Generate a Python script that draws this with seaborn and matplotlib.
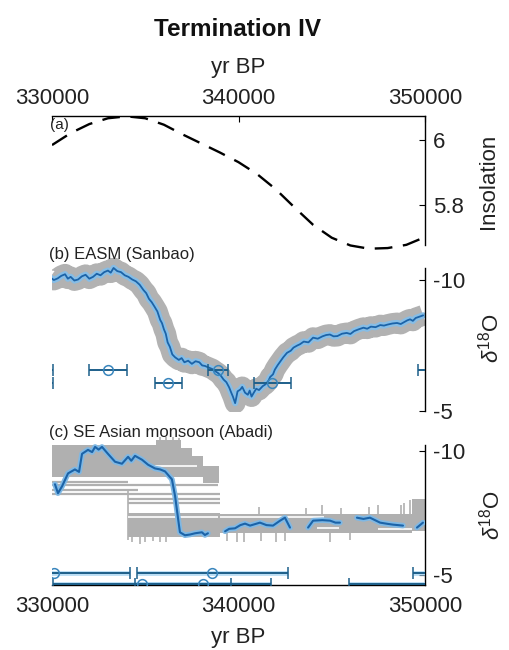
import numpy as np
import pandas as pd
import matplotlib
matplotlib.use("Agg")
import matplotlib.pyplot as plt
import seaborn as sns

# ---------------- data ----------------
x_ticks = [330000, 340000, 350000]
x_ticklabels = ["330000", "340000", "350000"]

# (a) insolation
ins_age = [330000, 331000, 332000, 333000, 334000, 335000, 336000, 337000, 338000, 339000,
           340000, 341000, 342000, 343000, 344000, 345000, 346000, 347000, 348000, 349000, 350000]
ins_val = [5.985, 6.022, 6.050, 6.068, 6.074, 6.068, 6.048, 6.018, 5.990, 5.962,
           5.932, 5.895, 5.848, 5.792, 5.738, 5.698, 5.674, 5.664, 5.666, 5.676, 5.700]
ins_ticks = [5.8, 6.0]
ins_ticklabels = ["5.8", "6"]

# (b) EASM (Sanbao)
b_age = [329900, 330100, 330300, 330500, 330700, 330850, 331000, 331200, 331400, 331600,
         331800, 332000, 332200, 332400, 332600, 332800, 333000, 333150, 333300, 333500,
         333700, 333900, 334100, 334300, 334500, 334700, 334900, 335050, 335200, 335350,
         335500, 335650, 335800, 335900, 336000, 336100, 336200, 336320, 336450, 336600,
         336800, 336950, 337100, 337300, 337500, 337700, 337900, 338050, 338200, 338400,
         338600, 338750, 338900, 339050, 339200, 339350, 339500, 339600, 339700, 339820,
         339950, 340100, 340200, 340350, 340500, 340600, 340700, 340820, 340950, 341100,
         341300, 341450, 341600, 341700, 341850, 341950, 342100, 342250, 342400, 342600,
         342800, 342950, 343150, 343300, 343500, 343750, 344000, 344250, 344500, 344700,
         344900, 345100, 345300, 345550, 345800, 346000, 346200, 346450, 346700, 346900,
         347100, 347350, 347600, 347800, 348000, 348250, 348500, 348700, 348900, 349050,
         349200, 349350, 349500, 349700, 349900]
b_d18o = [-10.10, -10.00, -10.06, -10.16, -10.22, -10.05, -10.12, -9.98, -10.02, -10.14,
          -10.20, -10.05, -10.12, -10.24, -10.18, -10.30, -10.36, -10.28, -10.46, -10.34,
          -10.30, -10.18, -10.12, -10.02, -9.95, -9.82, -9.62, -9.50, -9.28, -9.15,
          -8.98, -8.80, -8.48, -8.35, -8.12, -7.95, -7.62, -7.45, -7.16, -7.05,
          -6.95, -7.02, -6.86, -6.92, -6.80, -6.90, -6.86, -6.74, -6.72, -6.66,
          -6.60, -6.52, -6.45, -6.35, -6.20, -6.10, -5.90, -5.72, -5.55, -5.30,
          -5.75, -5.82, -5.92, -5.70, -5.62, -5.78, -5.55, -5.70, -5.85, -5.80,
          -5.95, -6.02, -6.15, -6.30, -6.40, -6.58, -6.75, -6.90, -7.05, -7.22,
          -7.30, -7.42, -7.50, -7.55, -7.65, -7.62, -7.80, -7.76, -7.85, -7.90,
          -7.92, -7.85, -7.86, -7.95, -7.98, -7.94, -8.05, -8.12, -8.18, -8.14,
          -8.22, -8.20, -8.28, -8.26, -8.30, -8.34, -8.36, -8.32, -8.40, -8.46,
          -8.50, -8.44, -8.55, -8.60, -8.65]
b_date_age = [328000, 333020, 338900, 352500, 328000, 336240, 341820]
b_date_err = [2050, 1020, 540, 2880, 2050, 720, 980]
b_date_y = [-6.56, -6.56, -6.56, -6.56, -6.06, -6.06, -6.06]

# (c) SE Asian monsoon (Abadi)
c_age = [330160, 330320, 330540, 330860, 331230, 331450, 331610, 331930, 332150, 332310,
         332500, 332680, 333000, 333380, 333750, 334080, 334250, 334450, 334830, 335150,
         335520, 335800, 336060, 336430, 336600, 336760, 336860, 337130, 337400, 337670,
         338040, 338200, 338360,
         339280, 339500, 339810, 340100, 340350, 340620, 341150, 341500, 341850, 342230,
         342490, 342760,
         343730, 344000, 344500, 344910, 345200, 345440,
         346350, 346700, 347050, 347590, 348000, 348280, 348820,
         349570, 349890]
c_d18o = [-8.65, -8.29, -8.57, -9.09, -9.25, -9.15, -9.88, -10.04, -9.95, -10.16,
          -10.05, -10.16, -9.88, -9.56, -9.48, -9.76, -9.60, -9.80, -9.64, -9.44,
          -9.29, -9.25, -9.17, -8.85, -8.17, -7.26, -6.71, -6.59, -6.62, -6.67,
          -6.71, -6.60, -6.67,
          -6.75, -6.85, -6.87, -7.00, -7.06, -6.98, -7.10, -7.00, -6.98, -7.18,
          -7.30, -6.90,
          -6.90, -7.18, -7.20, -7.18, -7.10, -7.10,
          -7.30, -7.25, -7.30, -7.10, -7.05, -7.02, -6.98,
          -6.90, -7.10]
c_seg = [0] * 33 + [1] * 12 + [2] * 6 + [3] * 7 + [4] * 2

# (c) age-ensemble grey blocks
c_up_x = [330000, 335600, 335600, 336900, 336900, 337500, 337500, 338100, 338100, 338950]
c_up_top = [-10.22, -10.22, -10.45, -10.45, -10.10, -10.10, -9.80, -9.80, -9.40, -9.40]
c_up_bot = [-8.95, -8.95, -8.95, -8.95, -8.95, -8.95, -8.95, -8.95, -8.70, -8.70]
c_lo_x = [334100, 339000, 339000, 349300, 349300, 350000]
c_lo_top = [-7.50, -7.50, -7.45, -7.45, -8.05, -8.05]
c_lo_bot = [-6.50, -6.50, -6.70, -6.70, -6.75, -6.75]
c_line_x0 = [330000, 330000, 330000, 330000, 334100, 334100]
c_line_x1 = [334100, 338900, 334600, 339000, 339000, 339000]
c_line_y = [-8.75, -8.62, -8.42, -8.25, -8.05, -7.90]
c_white_x0 = [334100, 339000, 344200, 347500, 335200]
c_white_x1 = [338900, 344600, 345400, 349300, 337800]
c_white_y = [-7.32, -7.32, -6.90, -6.85, -9.40]
c_spike_x = [334300, 334700, 335000, 335400, 335800, 336100, 339400, 339900, 340300, 341200,
             342000, 342500, 344900, 346000, 341100, 343600, 344500, 345500, 347000, 347500,
             348700, 348900, 349200, 349400, 335800, 336100, 336500, 336800]
c_spike_lo = [-6.5, -6.5, -6.5, -6.5, -6.5, -6.5, -6.7, -6.7, -6.7, -6.7,
              -6.7, -6.7, -6.7, -6.7, -7.45, -7.45, -7.45, -7.45, -7.45, -7.45,
              -7.45, -7.45, -7.45, -7.45, -10.3, -10.3, -10.3, -10.3]
c_spike_hi = [-6.3, -6.25, -6.3, -6.35, -6.3, -6.3, -6.35, -6.3, -6.3, -6.35,
              -6.3, -6.35, -6.3, -6.4, -7.75, -7.7, -7.8, -7.7, -7.75, -7.8,
              -7.8, -7.9, -8.0, -7.9, -10.55, -10.6, -10.55, -10.5]

c_date_age = [330100, 338600, 353500, 334820, 338100, 352000]
c_date_err = [4100, 4050, 4140, 4770, 3650, 6080]
c_date_y = [-5.08, -5.08, -5.08, -4.62, -4.62, -4.62]

d_ticks = [-10, -5]
d_ticklabels = ["-10", "-5"]

# ---------------- style ----------------
sns.set_style("white")
plt.rcParams["font.family"] = ["Liberation Sans", "DejaVu Sans"]
plt.rcParams["mathtext.fontset"] = "custom"
plt.rcParams["mathtext.rm"] = "Liberation Sans"
plt.rcParams["mathtext.it"] = "Liberation Sans:italic"

W, H = 509, 650
fig = plt.figure(figsize=(W / 100, H / 100), dpi=100)


def px_axes(top, bottom, left=52, right=425):
    return fig.add_axes([left / W, 1 - bottom / H, (right - left) / W, (bottom - top) / H])


axa = px_axes(116, 250)
axb = px_axes(258, 412)
axc = px_axes(437, 585)

for ax in (axa, axb, axc):
    ax.set_facecolor("none")
    ax.set_xlim(330000, 350000)
    for s in ax.spines.values():
        s.set_visible(False)
        s.set_color("black")
        s.set_linewidth(1.0)
    ax.spines["right"].set_visible(True)
    ax.tick_params(axis="both", direction="in", length=4, width=0.8,
                   labelsize=16, colors="black")
    ax.yaxis.tick_right()
    ax.tick_params(axis="y", pad=6, labelcolor="#222222")

TXT = "#222222"
DARK = "#1d5f8a"
BLUE = "#1b63a8"

# ---- (a) ----
dfa = pd.DataFrame({"age": ins_age, "ins": ins_val})
sns.lineplot(data=dfa, x="age", y="ins", ax=axa, color="black", lw=1.7,
             estimator=None, sort=False)
axa.lines[-1].set_dashes((7.5, 4.5))
axa.set_ylim(5.66, 6.075)
axa.spines["top"].set_visible(True)
axa.spines["right"].set_bounds(5.675, 6.075)
axa.xaxis.tick_top()
axa.set_xticks(x_ticks)
axa.set_xticklabels(x_ticklabels, color=TXT)
axa.tick_params(axis="x", pad=5)
axa.set_yticks(ins_ticks)
axa.set_yticklabels(ins_ticklabels)
axa.set_xlabel("")
axa.set_ylabel("")

# ---- (b) ----
dfb = pd.DataFrame({"age": b_age, "d18O": b_d18o})
sns.lineplot(data=dfb, x="age", y="d18O", ax=axb, color="#b2b2b2", lw=15,
             estimator=None, sort=False, solid_capstyle="butt", solid_joinstyle="round")
sns.lineplot(data=dfb, x="age", y="d18O", ax=axb, color="#86bde6", lw=4.5,
             estimator=None, sort=False)
sns.lineplot(data=dfb, x="age", y="d18O", ax=axb, color=BLUE, lw=1.3,
             estimator=None, sort=False)
axb.errorbar(b_date_age, b_date_y, xerr=b_date_err, fmt="o", ms=7, mfc="none",
             mec="#3a86bd", mew=1.1, ecolor=DARK, elinewidth=1.4, capsize=4.5,
             capthick=1.4, zorder=5)
axb.set_ylim(-4.962, -10.84)
axb.spines["right"].set_bounds(-10.46, -5.0)
axb.set_xticks([])
axb.set_yticks(d_ticks)
axb.set_yticklabels(d_ticklabels)
axb.set_xlabel("")
axb.set_ylabel("")

# ---- (c) ----
GREY = "#b0b0b0"
axc.fill_between(c_up_x, c_up_top, c_up_bot, color=GREY, lw=0, zorder=1)
axc.fill_between(c_lo_x, c_lo_top, c_lo_bot, color=GREY, lw=0, zorder=1)
axc.hlines(c_line_y, c_line_x0, c_line_x1, color=GREY, lw=1.6, zorder=1)
axc.hlines(c_white_y, c_white_x0, c_white_x1, color="white", lw=1.2, zorder=1.5)
axc.vlines(c_spike_x, c_spike_lo, c_spike_hi, color=GREY, lw=1.2, zorder=1)
axc.vlines([334100], [-8.4], [-6.4], color=GREY, lw=1.2, zorder=1)
dfc = pd.DataFrame({"age": c_age, "d18O": c_d18o, "seg": c_seg})
sns.lineplot(data=dfc, x="age", y="d18O", units="seg", ax=axc, color="#7fb8e4", lw=4,
             estimator=None, sort=False, zorder=3)
sns.lineplot(data=dfc, x="age", y="d18O", units="seg", ax=axc, color=BLUE, lw=1.5,
             estimator=None, sort=False, zorder=4)
axc.errorbar(c_date_age, c_date_y, xerr=c_date_err, fmt="none", ecolor="#9fd0f0",
             elinewidth=3.5, capsize=0, zorder=4, alpha=0.7)
axc.errorbar(c_date_age, c_date_y, xerr=c_date_err, fmt="o", ms=7, mfc="none",
             mec="#3a86bd", mew=1.1, ecolor=DARK, elinewidth=1.4, capsize=4.5,
             capthick=1.4, zorder=5)
axc.set_ylim(-4.58, -10.56)
axc.spines["bottom"].set_visible(True)
axc.spines["right"].set_bounds(-10.24, -4.58)
axc.set_xticks(x_ticks)
axc.set_xticklabels(x_ticklabels, color=TXT)
axc.tick_params(axis="x", pad=8)
axc.set_yticks(d_ticks)
axc.set_yticklabels(d_ticklabels)
axc.set_xlabel("")
axc.set_ylabel("")


def ftext(x, y, s, **kw):
    fig.text(x / W, 1 - y / H, s, **kw)


ftext(238, 29, "Termination IV", ha="center", va="center", fontsize=17.5,
      fontweight="bold", color="#111111")
ftext(238, 67, "yr BP", ha="center", va="center", fontsize=16, color=TXT)
ftext(238, 637, "yr BP", ha="center", va="center", fontsize=16, color=TXT)
ftext(50, 125, "(a)", ha="left", va="center", fontsize=11, color=TXT)
ftext(49, 254, "(b) EASM (Sanbao)", ha="left", va="center", fontsize=12, color=TXT)
ftext(49, 433, "(c) SE Asian monsoon (Abadi)", ha="left", va="center", fontsize=12, color=TXT)
ftext(489, 181, "Insolation", ha="center", va="center", rotation=90, fontsize=16, color=TXT)
ftext(491, 338, r"$\delta^{18}$O", ha="center", va="center", rotation=90, fontsize=16, color=TXT)
ftext(492, 515, r"$\delta^{18}$O", ha="center", va="center", rotation=90, fontsize=16, color=TXT)

fig.savefig("out.png", dpi=100)
